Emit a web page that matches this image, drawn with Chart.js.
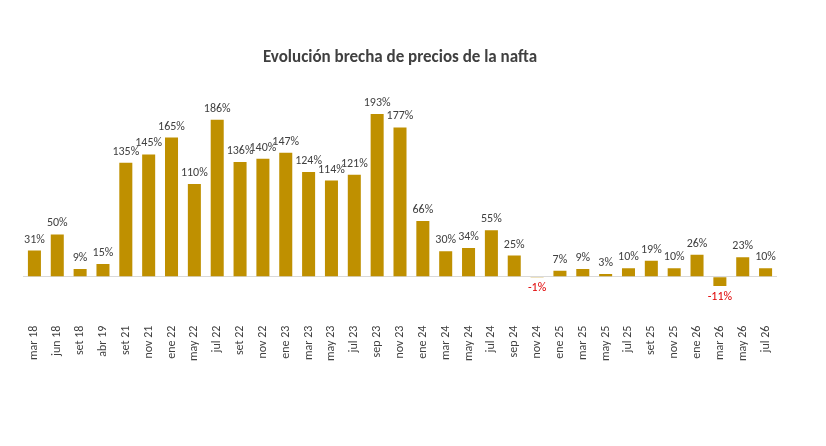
<!DOCTYPE html>
<html>
<head>
<meta charset="utf-8">
<script src="https://cdn.jsdelivr.net/npm/chart.js@4"></script>
<style>
  html, body { margin: 0; padding: 0; background: #fff; }
  #wrap { width: 826px; height: 446px; }
</style>
</head>
<body>
<div id="wrap"><canvas id="chart"></canvas></div>
<script>
// === DATA ===
const months = ['mar 18', 'jun 18', 'set 18', 'abr 19', 'set 21', 'nov 21', 'ene 22', 'may 22', 'jul 22', 'set 22',
    'nov 22', 'ene 23', 'mar 23', 'may 23', 'jul 23', 'sep 23', 'nov 23', 'ene 24', 'mar 24', 'may 24', 'jul 24',
    'sep 24', 'nov 24', 'ene 25', 'mar 25', 'may 25', 'jul 25', 'set 25', 'nov 25', 'ene 26', 'mar 26', 'may 26', 'jul 26'];
const gapPct = [31, 50, 9, 15, 135, 145, 165, 110, 186, 136, 140, 147, 124, 114, 121, 193, 177, 66, 30, 34, 55,
    25, -1, 7, 9, 3, 10, 19, 10, 26, -11, 23, 10];

const GOLD = '#BF9000';
const TEXT = '#404040';

// labels above (or below, in red) each bar
const valueLabels = {
    id: 'valueLabels',
    afterDatasetsDraw(chart) {
        const ctx  = chart.ctx;
        const meta = chart.getDatasetMeta(0);
        ctx.save();
        ctx.font = '12px Calibri, Carlito, "Liberation Sans", sans-serif';
        ctx.textAlign = 'center';
        meta.data.forEach((bar, i) => {
            const v = gapPct[i];
            if (v < 0) {
                ctx.fillStyle = '#E00000';
                ctx.textBaseline = 'top';
                ctx.fillText(v + '%', bar.x, bar.y + 5);
            } else {
                ctx.fillStyle = TEXT;
                ctx.textBaseline = 'bottom';
                ctx.fillText(v + '%', bar.x, bar.y - 5);
            }
        });
        ctx.restore();
    },
};

new Chart(document.getElementById('chart').getContext('2d'), {
    type: 'bar',
    data: {
        labels: months,
        datasets: [{
            data: gapPct,
            backgroundColor: GOLD,
            barPercentage: 0.57,
            categoryPercentage: 1,
        }],
    },
    options: {
        responsive: true,
        maintainAspectRatio: false,
        animation: false,
        layout: { padding: { left: 23, right: 49, top: 0, bottom: 82 } },
        plugins: {
            legend: { display: false },
            tooltip: { enabled: false },
            title: {
                display: true,
                text: 'Evolución brecha de precios de la nafta',
                color: TEXT,
                font: { size: 17, weight: 'bold', family: 'Calibri, Carlito, "Open Sans", sans-serif' },
                padding: { top: 48, bottom: 27 },
            },
        },
        scales: {
            x: {
                grid: { display: false },
                border: { display: false },
                ticks: {
                    color: TEXT,
                    font: { size: 12, family: 'Calibri, Carlito, "Liberation Sans", sans-serif' },
                    maxRotation: 90,
                    minRotation: 90,
                    autoSkip: false,
                },
            },
            y: {
                min: -45,
                max: 215,
                display: true,
                border: { display: false },
                ticks: { display: false },
                grid: {
                    drawTicks: false,
                    color: ctx => ctx.tick.value === 0 ? '#D9D9D9' : 'transparent',
                },
                afterBuildTicks: axis => { axis.ticks = [{ value: 0 }]; },
            },
        },
    },
    plugins: [valueLabels],
});
</script>
</body>
</html>
